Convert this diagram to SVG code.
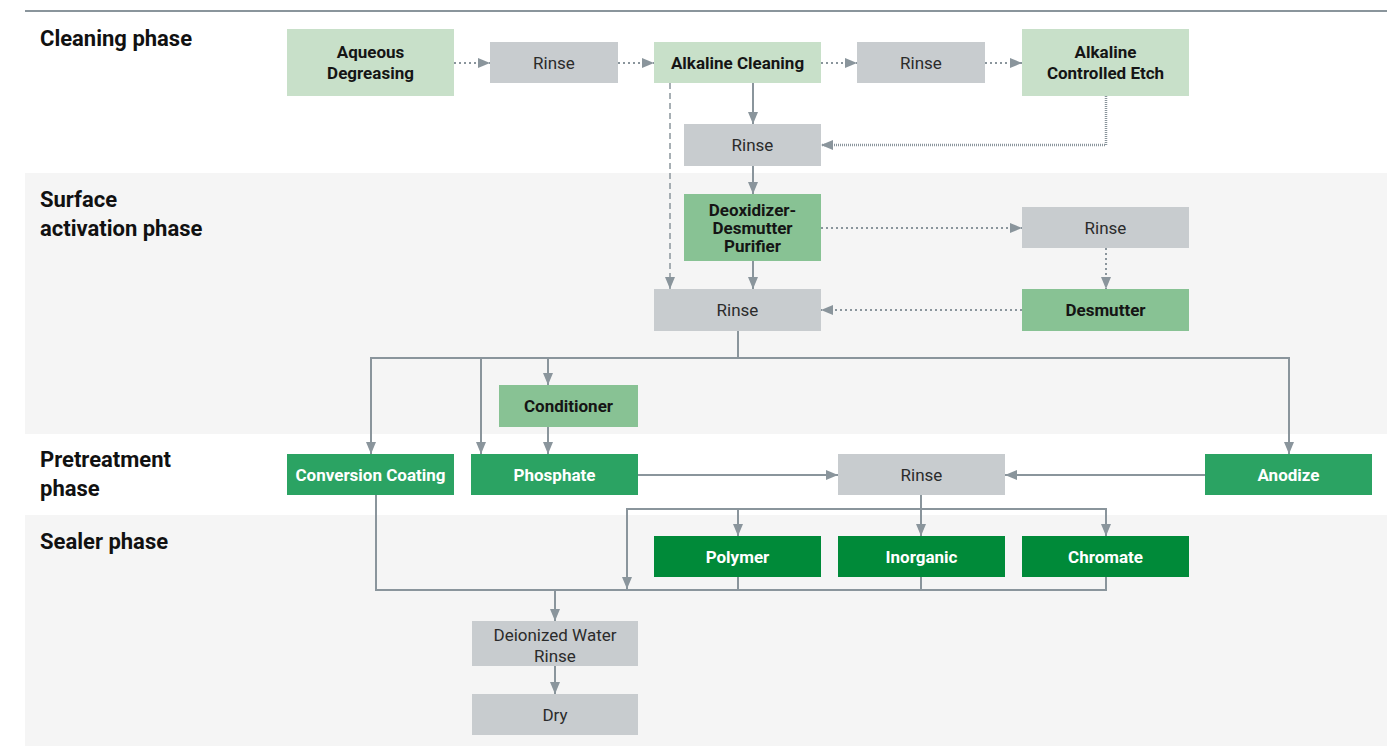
<svg xmlns="http://www.w3.org/2000/svg" width="1399" height="746" viewBox="0 0 1399 746">
<style>
.lab{font-family:Roboto,"Liberation Sans",sans-serif;font-weight:bold;font-size:22px;fill:#111}
.t{font-family:Roboto,"Liberation Sans",sans-serif;font-size:17px;text-anchor:middle;dominant-baseline:central}
.b{font-weight:bold}
.dk{fill:#151515}
.wh{fill:#ffffff}
.rg{fill:#2b2b2b}
.gray{fill:#c8cccf}
.lg{fill:#c8e0c9}
.mg{fill:#88c294}
.g{fill:#2ba363}
.dg{fill:#008a39}
.c{fill:none;stroke:#8a959c;stroke-width:2}
.dot{stroke-dasharray:2 3}
.fine{stroke-dasharray:1 1;stroke-width:2.5}
.dash{stroke-dasharray:6 4;stroke-width:1.5}
</style>
<defs>
<marker id="ah" viewBox="0 0 12 12" markerWidth="12" markerHeight="12" refX="12" refY="6" orient="auto" markerUnits="userSpaceOnUse">
<path d="M0,1 L12,6 L0,11 z" fill="#8a959c"/>
</marker>
</defs>
<rect x="0" y="0" width="1399" height="746" fill="#ffffff"/>
<g id="bands">
<rect x="25" y="173" width="1362" height="261" fill="#f5f5f5"/>
<rect x="25" y="515" width="1362" height="231" fill="#f5f5f5"/>
<line x1="25" y1="11" x2="1387" y2="11" stroke="#8a959c" stroke-width="2"/>
</g>
<g id="phase-labels">
<text class="lab" x="40" y="46">Cleaning phase</text>
<text class="lab" x="40" y="207">Surface</text>
<text class="lab" x="40" y="236">activation phase</text>
<text class="lab" x="40" y="467">Pretreatment</text>
<text class="lab" x="40" y="496">phase</text>
<text class="lab" x="40" y="549">Sealer phase</text>
</g>
<g id="connectors">
<line class="c dot" x1="454" y1="63" x2="490" y2="63" marker-end="url(#ah)"/>
<line class="c dot" x1="618" y1="63" x2="654" y2="63" marker-end="url(#ah)"/>
<line class="c dot" x1="821" y1="63" x2="857" y2="63" marker-end="url(#ah)"/>
<line class="c dot" x1="985" y1="63" x2="1022" y2="63" marker-end="url(#ah)"/>
<line class="c" x1="753" y1="83" x2="753" y2="124" marker-end="url(#ah)"/>
<polyline class="c fine" points="1106,96 1106,145 821,145" marker-end="url(#ah)"/>
<line class="c dash" x1="670" y1="83" x2="670" y2="289" marker-end="url(#ah)"/>
<line class="c" x1="753" y1="166" x2="753" y2="194" marker-end="url(#ah)"/>
<line class="c" x1="753" y1="261" x2="753" y2="289" marker-end="url(#ah)"/>
<line class="c dot" x1="821" y1="228" x2="1022" y2="228" marker-end="url(#ah)"/>
<line class="c dot" x1="1106" y1="248" x2="1106" y2="289" marker-end="url(#ah)"/>
<line class="c dot" x1="1022" y1="310" x2="821" y2="310" marker-end="url(#ah)"/>
<polyline class="c" points="738,331 738,358"/>
<line class="c" x1="370" y1="358" x2="1289" y2="358"/>
<polyline class="c" points="371,357 371,454" marker-end="url(#ah)"/>
<polyline class="c" points="481,357 481,454" marker-end="url(#ah)"/>
<polyline class="c" points="548,357 548,385" marker-end="url(#ah)"/>
<polyline class="c" points="1289,357 1289,454" marker-end="url(#ah)"/>
<line class="c" x1="548" y1="427" x2="548" y2="454" marker-end="url(#ah)"/>
<line class="c" x1="638" y1="475" x2="838" y2="475" marker-end="url(#ah)"/>
<line class="c" x1="1205" y1="475" x2="1005" y2="475" marker-end="url(#ah)"/>
<polyline class="c" points="921,495 921,509"/>
<polyline class="c" points="627,590 627,509 1106,509 1106,536" marker-end="url(#ah)"/>
<line class="c" x1="627" y1="510" x2="627" y2="589" marker-end="url(#ah)"/>
<polyline class="c" points="738,508 738,536" marker-end="url(#ah)"/>
<polyline class="c" points="921,508 921,536" marker-end="url(#ah)"/>
<polyline class="c" points="376,495 376,590 1106,590 1106,577"/>
<line class="c" x1="738" y1="577" x2="738" y2="590"/>
<line class="c" x1="921" y1="577" x2="921" y2="590"/>
<line class="c" x1="555" y1="590" x2="555" y2="621" marker-end="url(#ah)"/>
<line class="c" x1="555" y1="666" x2="555" y2="694" marker-end="url(#ah)"/>
</g>
<g id="aqueous-degreasing"><rect class="lg" x="287" y="29" width="167" height="67"/><text class="t b dk" x="370.5" y="52">Aqueous</text><text class="t b dk" x="370.5" y="73">Degreasing</text></g>
<g id="rinse-1"><rect class="gray" x="490" y="42" width="128" height="41"/><text class="t rg" x="554" y="62.5">Rinse</text></g>
<g id="alkaline-cleaning"><rect class="lg" x="654" y="42" width="167" height="41"/><text class="t b dk" x="737.5" y="62.5">Alkaline Cleaning</text></g>
<g id="rinse-2"><rect class="gray" x="857" y="42" width="128" height="41"/><text class="t rg" x="921" y="62.5">Rinse</text></g>
<g id="alkaline-controlled-etch"><rect class="lg" x="1022" y="29" width="167" height="67"/><text class="t b dk" x="1105.5" y="52">Alkaline</text><text class="t b dk" x="1105.5" y="73">Controlled Etch</text></g>
<g id="rinse-3"><rect class="gray" x="684" y="124" width="137" height="42"/><text class="t rg" x="752.5" y="145">Rinse</text></g>
<g id="deoxidizer"><rect class="mg" x="684" y="194" width="137" height="67"/><text class="t b dk" x="752.5" y="210">Deoxidizer-</text><text class="t b dk" x="752.5" y="228">Desmutter</text><text class="t b dk" x="752.5" y="246">Purifier</text></g>
<g id="rinse-4"><rect class="gray" x="1022" y="207" width="167" height="41"/><text class="t rg" x="1105.5" y="227.5">Rinse</text></g>
<g id="rinse-5"><rect class="gray" x="654" y="289" width="167" height="42"/><text class="t rg" x="737.5" y="310">Rinse</text></g>
<g id="desmutter"><rect class="mg" x="1022" y="289" width="167" height="42"/><text class="t b dk" x="1105.5" y="310">Desmutter</text></g>
<g id="conditioner"><rect class="mg" x="499" y="385" width="139" height="42"/><text class="t b dk" x="568.5" y="406">Conditioner</text></g>
<g id="conversion-coating"><rect class="g" x="287" y="454" width="167" height="41"/><text class="t b wh" x="370.5" y="474.5">Conversion Coating</text></g>
<g id="phosphate"><rect class="g" x="471" y="454" width="167" height="41"/><text class="t b wh" x="554.5" y="475">Phosphate</text></g>
<g id="rinse-6"><rect class="gray" x="838" y="454" width="167" height="41"/><text class="t rg" x="921.5" y="474.5">Rinse</text></g>
<g id="anodize"><rect class="g" x="1205" y="454" width="167" height="41"/><text class="t b wh" x="1288.5" y="475">Anodize</text></g>
<g id="polymer"><rect class="dg" x="654" y="536" width="167" height="41"/><text class="t b wh" x="737.5" y="556.5">Polymer</text></g>
<g id="inorganic"><rect class="dg" x="838" y="536" width="167" height="41"/><text class="t b wh" x="921.5" y="556.5">Inorganic</text></g>
<g id="chromate"><rect class="dg" x="1022" y="536" width="167" height="41"/><text class="t b wh" x="1105.5" y="556.5">Chromate</text></g>
<g id="di-water-rinse"><rect class="gray" x="472" y="621" width="166" height="45"/><text class="t rg" x="555" y="635">Deionized Water</text><text class="t rg" x="555" y="656">Rinse</text></g>
<g id="dry"><rect class="gray" x="472" y="694" width="166" height="41"/><text class="t rg" x="555" y="715">Dry</text></g>
</svg>
